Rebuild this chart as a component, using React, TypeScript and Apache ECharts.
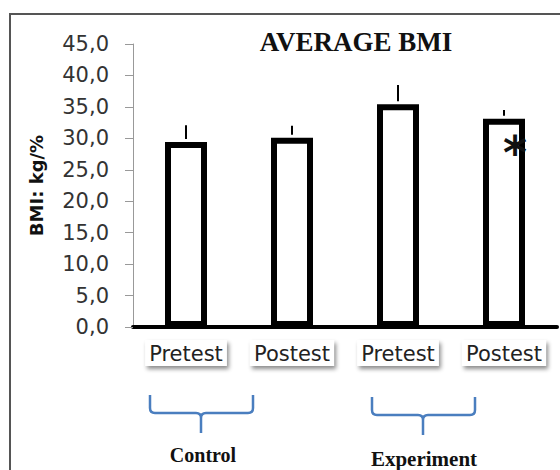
import React, { useEffect, useRef } from "react";
import * as echarts from "echarts";

const categories = ["Pretest", "Postest", "Pretest", "Postest"];
const bmiMeans = [29.4, 30.1, 35.4, 33.1];
const bmiErrorTops = [32.1, 32.0, 38.5, 34.5];
const yTicks = [0, 5, 10, 15, 20, 25, 30, 35, 40, 45];
const groupLabels = ["Control", "Experiment"];

const braceD =
  "M0,0 L0,13 Q0,18 5,18 L46,18 Q51,18 51,23 L51,38 M51,23 Q51,18 56,18 L98,18 Q103,18 103,13 L103,0";
echarts.graphic.registerShape("brace", (echarts.graphic as any).extendPath(braceD, {}));

export default function App() {
  const ref = useRef<HTMLDivElement>(null);
  useEffect(() => {
    if (!ref.current) return;
    const chart = echarts.init(ref.current, null, { renderer: "svg" });
    chart.setOption({
      animation: false,
      backgroundColor: "#fff",
      grid: { left: 133, right: 3, top: 44, bottom: 143 },
      xAxis: {
        type: "category",
        data: categories,
        axisLine: { lineStyle: { color: "#000", width: 4 } },
        axisTick: { length: 4, lineStyle: { color: "#000", width: 4 } },
        axisLabel: {
          margin: 13,
          fontFamily: "DejaVu Sans",
          fontSize: 21,
          color: "#222",
          backgroundColor: "#fff",
          padding: [3, 4, 2, 4],
          shadowColor: "rgba(0,0,0,0.45)",
          shadowBlur: 4,
          shadowOffsetX: 2,
          shadowOffsetY: 3,
        },
      },
      yAxis: {
        type: "value",
        min: yTicks[0],
        max: yTicks[yTicks.length - 1],
        interval: 5,
        name: "BMI: kg/%",
        nameLocation: "middle",
        nameGap: 88,
        nameRotate: 90,
        nameTextStyle: { fontFamily: "DejaVu Sans", fontWeight: "bold", fontSize: 18, color: "#111" },
        splitLine: { show: false },
        axisLine: { show: true, lineStyle: { color: "#999", width: 1 } },
        axisTick: { show: true, length: 8, lineStyle: { color: "#999" } },
        axisLabel: {
          margin: 24,
          fontFamily: "DejaVu Sans",
          fontSize: 21,
          color: "#333",
          formatter: (v: number) => v.toFixed(1).replace(".", ","),
        },
      },
      series: [
        {
          type: "bar",
          data: bmiMeans,
          barWidth: 42,
          itemStyle: { color: "#fff", borderColor: "#000", borderWidth: 6 },
          z: 2,
        },
        {
          type: "custom",
          data: bmiMeans.map((v, i) => [i, v, bmiErrorTops[i]]),
          z: 3,
          renderItem: (params: any, api: any) => {
            const p0 = api.coord([api.value(0), api.value(1)]);
            const p1 = api.coord([api.value(0), api.value(2)]);
            return {
              type: "line",
              shape: { x1: p0[0], y1: p0[1] - 3, x2: p1[0], y2: p1[1] },
              style: { stroke: "#000", lineWidth: 2 },
            };
          },
        },
      ],
      graphic: [
        {
          type: "rect",
          shape: { x: 10, y: 14, width: 600, height: 520 },
          style: { fill: "none", stroke: "#555", lineWidth: 2 },
          silent: true,
        },
        {
          type: "text",
          x: 356,
          y: 42,
          style: {
            text: "AVERAGE BMI",
            fontFamily: "Liberation Serif",
            fontWeight: "bold",
            fontSize: 27,
            fill: "#111",
            textAlign: "center",
            textVerticalAlign: "middle",
          },
        },
        {
          type: "text",
          x: 515,
          y: 153,
          z: 100,
          style: {
            text: "*",
            fontFamily: "DejaVu Sans",
            fontWeight: "bold",
            fontSize: 46,
            fill: "#111",
            textAlign: "center",
            textVerticalAlign: "middle",
          },
        },
        {
          type: "brace",
          x: 150,
          y: 395,
          style: { fill: "none", stroke: "#4a7ebf", lineWidth: 2.5 },
        },
        {
          type: "brace",
          x: 372,
          y: 397,
          style: { fill: "none", stroke: "#4a7ebf", lineWidth: 2.5 },
        },
        {
          type: "text",
          x: 203,
          y: 455,
          style: {
            text: groupLabels[0],
            fontFamily: "Liberation Serif",
            fontWeight: "bold",
            fontSize: 20,
            fill: "#111",
            textAlign: "center",
            textVerticalAlign: "middle",
          },
        },
        {
          type: "text",
          x: 424,
          y: 459,
          style: {
            text: groupLabels[1],
            fontFamily: "Liberation Serif",
            fontWeight: "bold",
            fontSize: 21,
            fill: "#111",
            textAlign: "center",
            textVerticalAlign: "middle",
          },
        },
      ],
    });
    return () => chart.dispose();
  }, []);
  return <div ref={ref} style={{ width: 560, height: 470, position: "absolute", left: 0, top: 0 }} />;
}
